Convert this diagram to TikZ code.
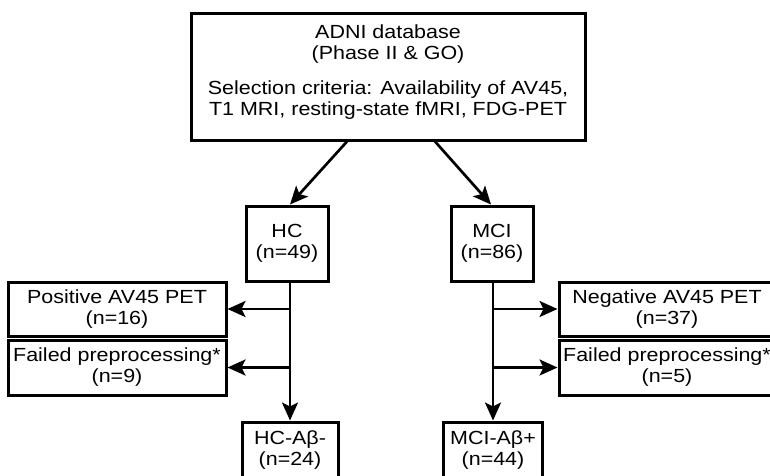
\documentclass[tikz,border=0pt]{standalone}
\usepackage{fontspec}
\setmainfont{Liberation Sans}[FakeStretch=1.13]
\usetikzlibrary{positioning,calc,arrows.meta}
\tikzset{
   every path/.style={>={Stealth[length=18pt,width=16pt,inset=4pt]}},
   box/.style={draw,line width=3pt,align=center,inner sep=0pt,
      font=\fontsize{19}{21}\selectfont},
   flow/.style={->,line width=2.7pt},
}

\begin{document}
\begin{tikzpicture}[x=1pt,y=-1pt]

      \useasboundingbox (0,0) rectangle (770,475);
      \clip (0,0) rectangle (770,475);

      \node[box, minimum width=394pt, minimum height=127pt, text depth=12pt] (adni)
      at (388,76.5)
      {ADNI database\\(Phase II \& GO)\\[14pt]Selection criteria: Availability of AV45,\\T1 MRI, resting-state fMRI, FDG-PET};

      % groups
      \node[box, minimum width=82pt, minimum height=75pt] (hc)
      at (287,243.5) {HC\\(n=49)};
      \node[box, minimum width=82pt, minimum height=75pt] (mci)
      at (492,243.5) {MCI\\(n=86)};

      % excluded
      \node[box, minimum width=218pt, minimum height=54pt] (hcpos)
      at (117,309) {Positive AV45 PET\\(n=16)};
      \node[box, minimum width=218pt, minimum height=55pt] (hcfail)
      at (117,367.5) {Failed preprocessing*\\(n=9)};
      \node[box, minimum width=216pt, minimum height=54pt] (mcineg)
      at (667,309) {Negative AV45 PET\\(n=37)};
      \node[box, minimum width=216pt, minimum height=55pt] (mcifail)
      at (667,367.5) {Failed preprocessing*\\(n=5)};

      % final
      \node[box, minimum width=96pt, minimum height=56pt] (hcneg)
      at (290,450) {HC-Aβ-\\(n=24)};
      \node[box, minimum width=99pt, minimum height=56pt] (mcipos)
      at (493,450) {MCI-Aβ+\\(n=44)};

      \draw[flow] ($ (adni.south) + (-41,0) $) -- ($ (hc.north) + (3,0) $);
      \draw[flow] ($ (adni.south) + (47,0) $) -- ($ (mci.north) + (-1,0) $);

      \draw[flow] (hc.south -| hcneg.north) -- (hcneg.north);
      \draw[flow] (hcpos.east -| hcneg.north) -- (hcpos.east);
      \draw[flow] (hcfail.east -| hcneg.north) -- (hcfail.east);

      \draw[flow] (mci.south -| mcipos.north) -- (mcipos.north);
      \draw[flow] (mcineg.west -| mcipos.north) -- (mcineg.west);
      \draw[flow] (mcifail.west -| mcipos.north) -- (mcifail.west);
    \end{tikzpicture}
\end{document}
